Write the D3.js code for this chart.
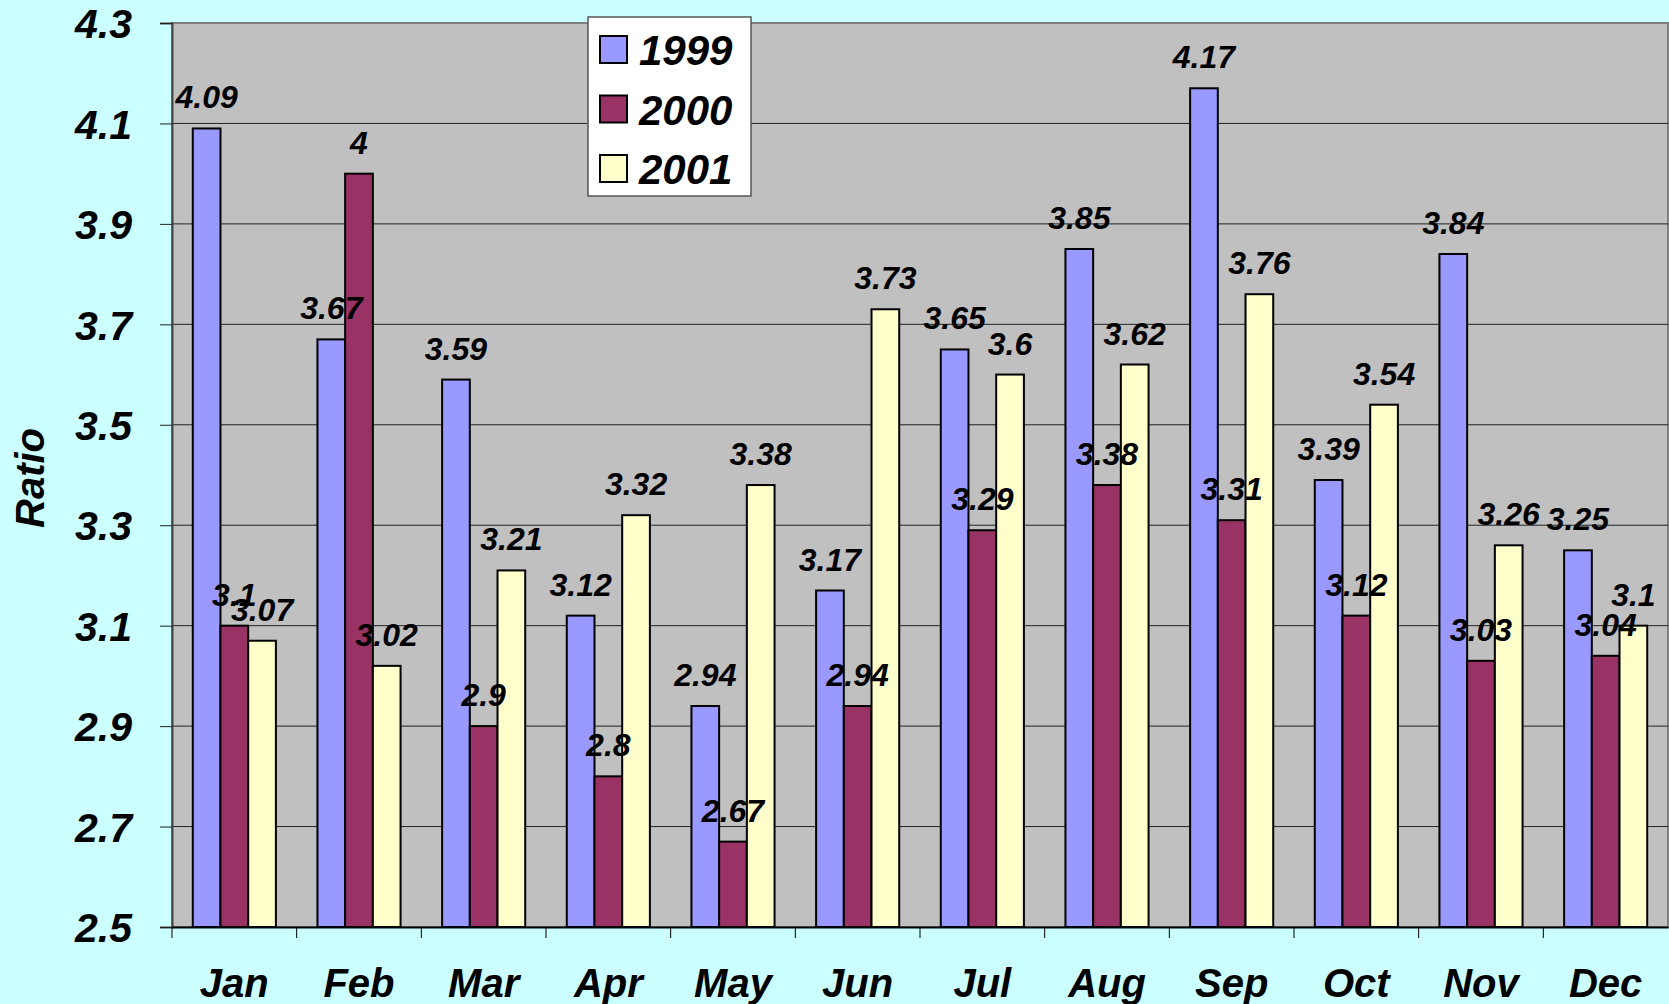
<!DOCTYPE html>
<html>
<head>
<meta charset="utf-8">
<script src="https://cdn.jsdelivr.net/npm/d3@7"></script>
<style>
  body { margin: 0; background: #ccffff; }
  svg { display: block; }
  text { font-family: "Liberation Sans", Arial, sans-serif; font-weight: bold; font-style: italic; fill: #000; }
</style>
</head>
<body>
<svg id="chart" width="1669" height="1004"></svg>
<script>
const months = ["Jan", "Feb", "Mar", "Apr", "May", "Jun", "Jul", "Aug", "Sep", "Oct", "Nov", "Dec"];
const years = ["1999", "2000", "2001"];
const ratio1999 = [4.09, 3.67, 3.59, 3.12, 2.94, 3.17, 3.65, 3.85, 4.17, 3.39, 3.84, 3.25];
const ratio2000 = [3.1, 4, 2.9, 2.8, 2.67, 2.94, 3.29, 3.38, 3.31, 3.12, 3.03, 3.04];
const ratio2001 = [3.07, 3.02, 3.21, 3.32, 3.38, 3.73, 3.6, 3.62, 3.76, 3.54, 3.26, 3.1];
const yTicks = [2.5, 2.7, 2.9, 3.1, 3.3, 3.5, 3.7, 3.9, 4.1, 4.3];

const colors = ["#9999ff", "#993366", "#ffffcc"];
const series = [ratio1999, ratio2000, ratio2001];

const svg = d3.select("#chart");
const plot = { left: 172, top: 23, right: 1668, bottom: 927 };

const x = d3.scaleBand().domain(months).range([plot.left, plot.right]).padding(0);
const xs = d3.scaleBand().domain(years).range([0, x.bandwidth()])
  .paddingInner(0).paddingOuter(0.75);
const y = d3.scaleLinear().domain([2.5, 4.3]).range([plot.bottom, plot.top]);

// plot background
svg.append("rect")
  .attr("x", plot.left).attr("y", plot.top)
  .attr("width", plot.right - plot.left).attr("height", plot.bottom - plot.top)
  .style("fill", "#c0c0c0").style("stroke", "#808080").style("stroke-width", 2);

// gridlines
svg.append("g").selectAll("line")
  .data(yTicks.slice(1, -1))
  .enter().append("line")
  .attr("x1", plot.left).attr("x2", plot.right)
  .attr("y1", (d) => y(d)).attr("y2", (d) => y(d))
  .style("stroke", "#222").style("stroke-width", 1);

// y axis
const yAxis = svg.append("g")
  .attr("transform", `translate(${plot.left},0)`)
  .call(d3.axisLeft(y).tickValues(yTicks).tickSize(12).tickPadding(28)
    .tickFormat(d3.format(".1f")));
yAxis.select(".domain").style("stroke", "#444").style("stroke-width", 2);
yAxis.selectAll(".tick line").style("stroke", "#222");
yAxis.selectAll(".tick text").style("font-size", "41px").attr("dy", "0.36em");

// x axis
const xAxis = svg.append("g")
  .attr("transform", `translate(0,${plot.bottom})`)
  .call(d3.axisBottom(x).tickSize(0).tickPadding(0));
xAxis.select(".domain").style("stroke", "#000").style("stroke-width", 2);
xAxis.selectAll(".tick text").style("font-size", "40px").attr("y", 70).attr("dy", 0);
svg.append("g").selectAll("line")
  .data(months)
  .enter().append("line")
  .attr("x1", (d) => x(d)).attr("x2", (d) => x(d))
  .attr("y1", plot.bottom).attr("y2", plot.bottom + 11)
  .style("stroke", "#000").style("stroke-width", 1);

// bars
series.forEach((values, si) => {
  svg.append("g").selectAll("rect")
    .data(values)
    .enter().append("rect")
    .attr("x", (d, i) => x(months[i]) + xs(years[si]))
    .attr("y", (d) => y(d))
    .attr("width", xs.bandwidth())
    .attr("height", (d) => y(2.5) - y(d))
    .style("fill", colors[si])
    .style("stroke", "#000").style("stroke-width", 2);
});

// value labels
series.forEach((values, si) => {
  svg.append("g").selectAll("text")
    .data(values)
    .enter().append("text")
    .attr("x", (d, i) => x(months[i]) + xs(years[si]) + xs.bandwidth() / 2)
    .attr("y", (d) => y(d) - 20)
    .attr("text-anchor", "middle")
    .style("font-size", "32px")
    .text((d) => d);
});

// y title
svg.append("text")
  .attr("transform", "translate(44,478) rotate(-90)")
  .attr("text-anchor", "middle")
  .style("font-size", "40px")
  .text("Ratio");

// legend
const legend = svg.append("g");
legend.append("rect")
  .attr("x", 588).attr("y", 17).attr("width", 163).attr("height", 179)
  .style("fill", "#fff").style("stroke", "#555").style("stroke-width", 1.5);
years.forEach((yr, i) => {
  legend.append("rect")
    .attr("x", 600).attr("y", 36 + i * 59.5).attr("width", 27).attr("height", 27)
    .style("fill", colors[i]).style("stroke", "#000").style("stroke-width", 2);
  legend.append("text")
    .attr("x", 639).attr("y", 65 + i * 59.5)
    .style("font-size", "42px")
    .text(yr);
});
</script>
</body>
</html>
